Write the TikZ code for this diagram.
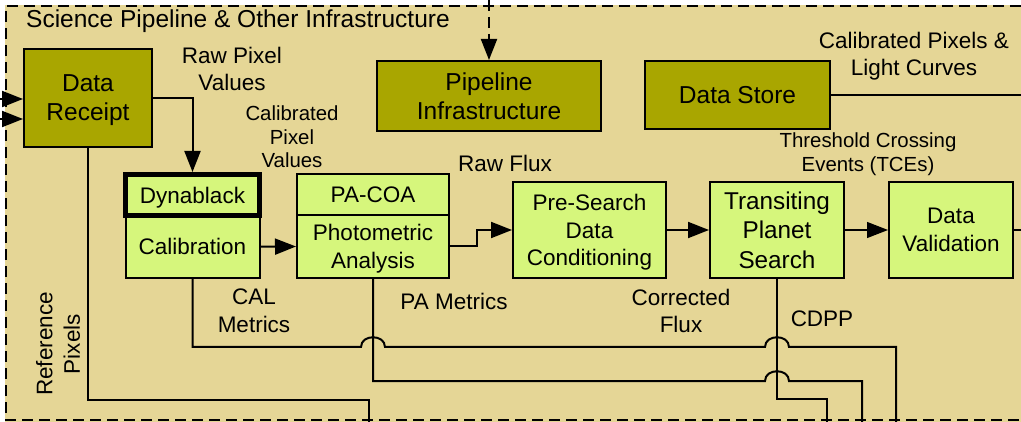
\documentclass[tikz,border=0pt]{standalone}
\usepackage{fontspec}
\setmainfont{Liberation Sans}
\usetikzlibrary{arrows.meta}
\definecolor{panelbg}{RGB}{229,214,150}
\definecolor{olivebox}{RGB}{169,166,0}
\definecolor{limebox}{RGB}{214,246,124}
\newcommand\szL{\fontsize{24.5}{29}\selectfont}
\newcommand\szM{\fontsize{22.5}{27.5}\selectfont}
\newcommand\szS{\fontsize{20.4}{23.5}\selectfont}
\tikzset{
  box/.style={draw=black, line width=2pt, align=center, inner sep=0pt, text=black, text depth=0pt},
  infra/.style={box, fill=olivebox, font=\szL},
  stage/.style={box, fill=limebox, font=\szM},
  bighead/.style={-{Triangle[length=21pt,width=16pt]}},
  flow/.style={line width=2pt, bighead},
  wire/.style={line width=2pt},
  lbl/.style={align=center, inner sep=0pt, font=\szM},
  frame/.style={line width=2.5pt, dash pattern=on 11pt off 6pt}
}
\begin{document}
\begin{tikzpicture}[x=1pt,y=-1pt]
\useasboundingbox (0,0) rectangle (1021,422);
% panel background and dashed outline
\fill[panelbg] (5,5) rectangle (1021,422);
\draw[frame] (1021,6) -- (6,6) -- (6,420) -- (1021,420);
\node[lbl, font=\szL, anchor=west] (title) at (26,21) {Science Pipeline \& Other Infrastructure};

% infrastructure boxes
\node[infra, minimum width=128pt, minimum height=98pt] (dr) at (88,98) {Data\\Receipt};
\node[infra, minimum width=224pt, minimum height=70pt] (pi) at (489,96) {Pipeline\\Infrastructure};
\node[infra, minimum width=185pt, minimum height=68pt] (ds) at (737.5,95) {Data Store};

% pipeline stages
\node[stage, minimum width=134pt, minimum height=62.5pt] (cal) at (192.5,246.75) {Calibration};
\node[stage, line width=5pt, minimum width=134pt, minimum height=41pt] (dyn) at (192.5,195) {Dynablack};
\node[stage, minimum width=152pt, minimum height=41pt] (coa) at (373,194.5) {PA-COA};
\node[stage, minimum width=152pt, minimum height=63pt] (pa) at (373,246.5) {Photometric\\Analysis};
\node[stage, minimum width=153pt, minimum height=96pt] (pdc) at (589.5,230) {Pre-Search\\Data\\Conditioning};
\node[stage, font=\fontsize{24.3}{29.5}\selectfont, minimum width=134pt, minimum height=96pt] (tps) at (777,230) {Transiting\\Planet\\Search};
\node[stage, minimum width=124pt, minimum height=96pt] (dv) at (951,230) {Data\\Validation};

% free ends at the panel edges
\coordinate (inA) at (0,99);
\coordinate (inB) at (0,119);
\coordinate (pitop) at (489,0);
\coordinate (dsout) at (1021,95);
\coordinate (dvout) at (1021,230);
\coordinate (rpout) at (369,422);
\coordinate (rpbend) at (369,400);
\coordinate (calout) at (896,422);
\coordinate (paout) at (862,422);
\coordinate (cdppout) at (827,422);
\coordinate (cdppbend) at (827,399);
\coordinate (pajog) at (477,246.5);

% incoming data
\draw[flow] (inA) -- (inA -| dr.west);
\draw[flow] (inB) -- (inB -| dr.west);
\draw[flow, dash pattern=on 11pt off 6pt] (pitop) -- (pi.north);
\draw[line width=1.5pt] (ds.east) -- (dsout);
\draw[line width=1.5pt] (dv.east) -- (dvout);

% main flow
\draw[flow] (dr.east) -| (dyn.north);
\draw[flow] (cal.east) -- (pa.west);
\draw[flow] (pa.east) -- (pajog) |- (pdc.west);
\draw[flow] (pdc.east) -- (tps.west);
\draw[line width=1.2pt, bighead] (tps.east) -- (dv.west);

% outputs leaving the panel
\draw[wire] (dr.south) |- (rpbend) -- (rpout);
\draw[wire] (cal.south) |- (361,347)
  .. controls (361,334) and (385,334) .. (385,347) -- (765,347)
  .. controls (765,334) and (789,334) .. (789,347) -- (896,347) -- (calout);
\draw[wire] (pa.south) |- (765,381)
  .. controls (765,368) and (789,368) .. (789,381) -- (862,381) -- (paout);
\draw[wire] (tps.south) |- (cdppbend) -- (cdppout);

% labels
\node[lbl] (lraw) at (232,69) {Raw Pixel\\Values};
\node[lbl, font=\szS] (lcal) at (292,137) {Calibrated\\Pixel\\Values};
\node[lbl] (lrawflux) at (505,163) {Raw Flux};
\node[lbl] (lcpx) at (914,56) {Calibrated Pixels \&\\Light Curves};
\node[lbl, font=\szS] (ltce) at (868,154) {Threshold Crossing\\Events (TCEs)};
\node[lbl] (lcalm) at (254,311) {CAL\\Metrics};
\node[lbl] (lpam) at (454,301) {PA Metrics};
\node[lbl] (lcorr) at (681,311) {Corrected\\Flux};
\node[lbl] (lcdpp) at (822,319) {CDPP};
\node[lbl, rotate=90] (lref) at (58,344) {Reference\\Pixels};
\end{tikzpicture}
\end{document}
